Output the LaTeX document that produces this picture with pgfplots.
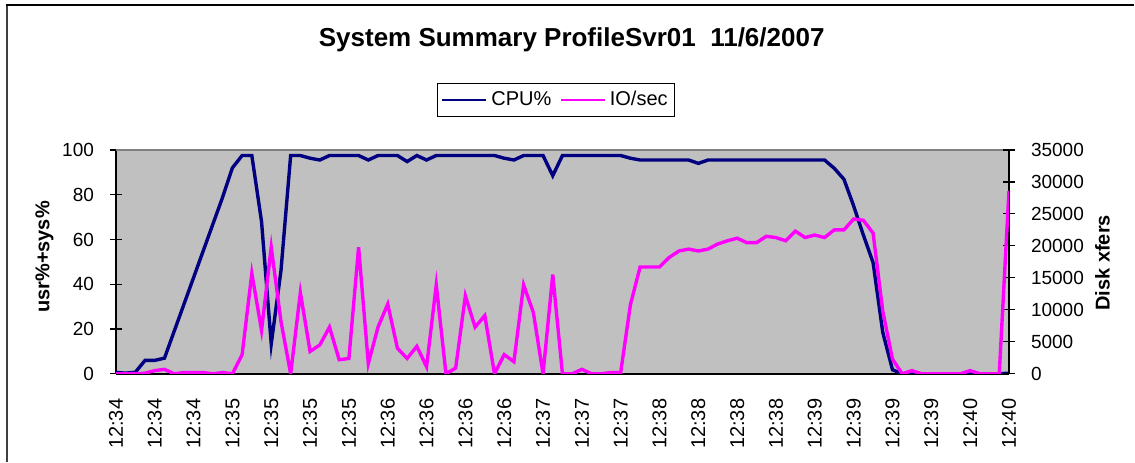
\documentclass[border=0pt]{standalone}
\usepackage{fontspec}
\setmainfont{Liberation Sans}
\usepackage{pgfplots}
\usepackage{pgfplotstable}
\pgfplotsset{compat=1.18}
\definecolor{plotbg}{HTML}{C0C0C0}
\definecolor{cpublue}{HTML}{000080}
\definecolor{iopink}{HTML}{FF00FF}

% one sample every ~4 s, 93 samples
\pgfplotstableread{
i cpu io
0 0.6 0
1 0.3 0
2 0.7 0
3 6.0 100
4 6.0 500
5 7.0 700
6 19 0
7 31 200
8 43 200
9 55 200
10 67 0
11 79 200
12 92 0
13 97.5 3000
14 97.5 15700
15 68 6800
16 13.4 19800
17 46 8200
18 97.5 0
19 97.5 12700
20 96.3 3500
21 95.5 4500
22 97.5 7300
23 97.5 2200
24 97.5 2400
25 97.5 19800
26 95.5 1600
27 97.5 7300
28 97.5 10900
29 97.5 4000
30 94.8 2400
31 97.5 4300
32 95.5 1100
33 97.5 13900
34 97.5 0
35 97.5 900
36 97.5 12200
37 97.5 7300
38 97.5 9100
39 97.5 0
40 96.3 3000
41 95.5 1900
42 97.5 13900
43 97.5 9600
44 97.5 0
45 88.5 15500
46 97.5 0
47 97.5 0
48 97.5 700
49 97.5 0
50 97.5 0
51 97.5 200
52 97.5 200
53 96.3 10800
54 95.5 16700
55 95.5 16700
56 95.5 16700
57 95.5 18200
58 95.5 19200
59 95.5 19500
60 94.0 19200
61 95.5 19500
62 95.5 20300
63 95.5 20800
64 95.5 21200
65 95.5 20500
66 95.5 20500
67 95.5 21500
68 95.5 21300
69 95.5 20800
70 95.5 22300
71 95.5 21300
72 95.5 21700
73 95.5 21300
74 91.8 22500
75 86.9 22500
76 75 24200
77 62 24000
78 49.7 22000
79 18.5 9800
80 1.8 2300
81 0 0
82 0 500
83 0 0
84 0 0
85 0 0
86 0 0
87 0 0
88 0 500
89 0 0
90 0 0
91 0 0
92 0.3 28600
}\sysdata

\begin{document}
\begin{tikzpicture}
\path (0,0) rectangle (567.5pt,231pt);
\draw[line width=1pt, black!75] (3.5pt,0) -- (3.5pt,228.5pt);
\draw[line width=0.6pt, black] (3pt,228.5pt) -- (567.5pt,228.5pt);
\node[font=\fontsize{13}{15}\selectfont\bfseries] at (286pt,211pt) {System Summary ProfileSvr01\ \ 11/6/2007};

\pgfplotsset{every axis/.append style={
  at={(58pt,44pt)}, anchor=south west, scale only axis,
  width=446.75pt, height=112pt, xmin=0, xmax=92,
  /pgf/number format/assume math mode=true,
  /pgf/number format/1000 sep={},
  tick label style={font=\fontsize{9.5}{11}\selectfont},
  label style={font=\fontsize{10}{12}\selectfont\bfseries},
  axis line style={line width=0.8pt},
  major tick length=6pt, tick align=center,
  tick style={black, line width=0.6pt}
}}

\begin{axis}[
  axis x line*=bottom, axis y line*=left,
  ymin=0, ymax=100, ytick={0,20,...,100},
  xtick={0,4,...,92},
  xticklabels={12:34,12:34,12:34,12:35,12:35,12:35,12:35,12:36,12:36,12:36,12:36,12:37,12:37,12:37,12:38,12:38,12:38,12:38,12:39,12:39,12:39,12:39,12:40,12:40},
  xtick style={draw=none},
  xticklabel style={rotate=90, anchor=east, font=\fontsize{10}{12}\selectfont},
  xticklabel shift=6pt,
  yticklabel style={xshift=-4.5pt},
  axis background/.style={fill=plotbg},
  ylabel={usr\%+sys\%},
  ylabel style={at={(axis description cs:-0.08,0.522)}, anchor=center},
  legend columns=2,
  legend image code/.code={\draw[#1, line width=1.3pt] (0pt,0pt) -- (22pt,0pt);},
  legend style={at={(axis description cs:0.493,1.223)}, anchor=center,
    draw=black, line width=0.5pt, font=\fontsize{10}{12}\selectfont,
    inner xsep=1.5pt,
    /tikz/every even column/.append style={column sep=2pt}},
]
\addplot[cpublue, line width=1.7pt] table[x=i, y=cpu] {\sysdata};
\addlegendentry{CPU\%}
\addlegendimage{iopink, line width=1.7pt}
\addlegendentry{IO/sec}
\draw[gray, line width=1pt] (rel axis cs:0,1) -- (rel axis cs:1,1);
\end{axis}

\begin{axis}[
  axis x line=none, axis y line*=right,
  ymin=0, ymax=35000, ytick={0,5000,...,35000},
  scaled y ticks=false,
  yticklabel style={xshift=4.5pt},
  ylabel={Disk xfers},
  ylabel style={at={(axis description cs:1.1046,0.496)}, anchor=center},
]
\addplot[iopink, line width=1.7pt] table[x=i, y=io] {\sysdata};
\end{axis}
\end{tikzpicture}
\end{document}
